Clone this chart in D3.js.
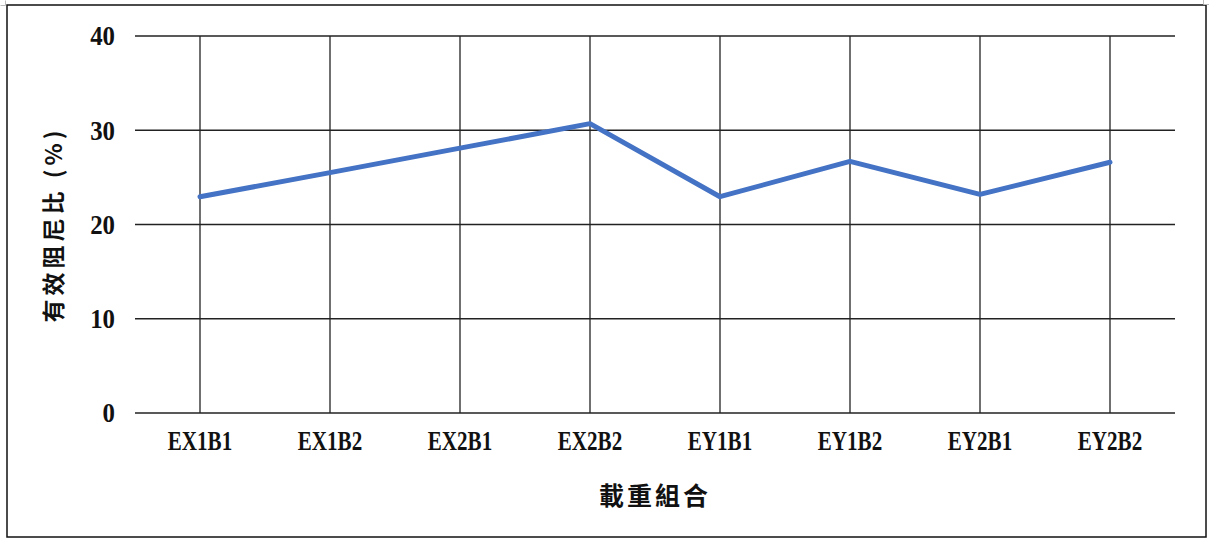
<!DOCTYPE html>
<html><head><meta charset="utf-8">
<script src="https://cdn.jsdelivr.net/npm/d3@7"></script>
<style>html,body{margin:0;padding:0;background:#fff;}</style>
</head><body>
<svg id="chart" width="1214" height="546"></svg>
<script>
const categories = ["EX1B1","EX1B2","EX2B1","EX2B2","EY1B1","EY1B2","EY2B1","EY2B2"];
const values = [22.95, 25.5, 28.1, 30.7, 22.95, 26.7, 23.2, 26.6];
const yTicks = [0, 10, 20, 30, 40];
const yTitle = "有效阻尼比 (%)";
const xTitle = "載重組合";

const svg = d3.select("#chart");
const m = {left: 135, right: 1175, top: 36, bottom: 413};
const x = d3.scalePoint().domain(categories).range([m.left, m.right]).padding(0.5);
const y = d3.scaleLinear().domain([0, 40]).range([m.bottom, m.top]);

// outer border
svg.append("rect").attr("x", 7).attr("y", 5).attr("width", 1199).attr("height", 532)
  .attr("fill", "none").attr("stroke", "#111").attr("stroke-width", 1.5);
// corner marks
svg.append("path").attr("d", "M0.5,5.5 H5.5 V0.5").attr("fill","none").attr("stroke","#bbb");
svg.append("path").attr("d", "M1203.5,0 V4.5 H1209").attr("fill","none").attr("stroke","#bbb");

const latin = "'Liberation Serif', 'Noto Sans CJK TC', serif";
const cjk = "'Noto Sans CJK TC', 'Noto Sans CJK SC', sans-serif";

// horizontal grid
svg.append("g").selectAll("line").data(yTicks).join("line")
  .attr("x1", m.left).attr("x2", m.right)
  .attr("y1", d => y(d)).attr("y2", d => y(d))
  .attr("stroke", "#222").attr("stroke-width", 1.3);
// vertical grid
svg.append("g").selectAll("line").data(categories).join("line")
  .attr("x1", d => x(d)).attr("x2", d => x(d))
  .attr("y1", y(40)).attr("y2", y(0))
  .attr("stroke", "#222").attr("stroke-width", 1.3);

// y tick labels
svg.append("g").selectAll("text").data(yTicks).join("text")
  .attr("x", 115).attr("y", d => y(d))
  .attr("dy", "0.35em")
  .attr("text-anchor", "end")
  .attr("font-family", latin).attr("font-weight", "bold").attr("font-size", 27)
  .attr("fill", "#111")
  .attr("transform", d => `translate(115,0) scale(0.92,1) translate(-115,0)`)
  .text(d => d);

// x tick labels
svg.append("g").selectAll("text").data(categories).join("text")
  .attr("x", 0).attr("y", 0)
  .attr("text-anchor", "middle")
  .attr("font-family", latin).attr("font-weight", "bold").attr("font-size", 27)
  .attr("fill", "#111")
  .attr("transform", d => `translate(${x(d)},450) scale(0.78,1)`)
  .text(d => d);

// line
const line = d3.line().x((d, i) => x(categories[i])).y(d => y(d));
svg.append("path").datum(values)
  .attr("d", line)
  .attr("fill", "none").attr("stroke", "#4472C4").attr("stroke-width", 5)
  .attr("stroke-linejoin", "round").attr("stroke-linecap", "round");

// axis titles
svg.append("text")
  .attr("transform", `translate(62,${(m.top + m.bottom) / 2}) rotate(-90)`)
  .attr("text-anchor", "middle")
  .attr("font-family", cjk).attr("font-weight", "bold").attr("font-size", 23)
  .attr("letter-spacing", 4)
  .attr("fill", "#111")
  .text(yTitle);

svg.append("text")
  .attr("x", (m.left + m.right) / 2).attr("y", 505)
  .attr("text-anchor", "middle")
  .attr("font-family", cjk).attr("font-weight", "bold").attr("font-size", 25)
  .attr("letter-spacing", 3)
  .attr("fill", "#111")
  .text(xTitle);
</script>
</body></html>
